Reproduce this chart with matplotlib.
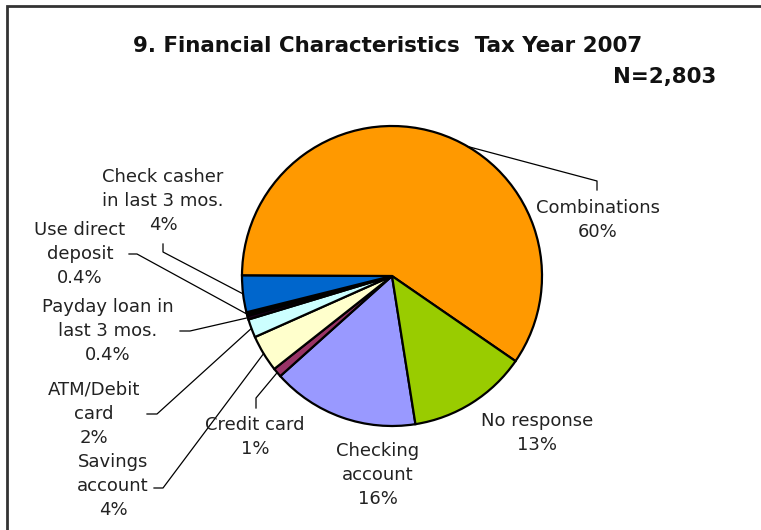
import numpy as np
import matplotlib.pyplot as plt

# slices in drawing order (clockwise from the bottom)
labels = ["Checking\naccount", "Credit card", "Savings\naccount", "ATM/Debit\ncard",
          "Payday loan in\nlast 3 mos.", "Use direct\ndeposit", "Check casher\nin last 3 mos.",
          "Combinations", "No response"]
pct_text = ["16%", "1%", "4%", "2%", "0.4%", "0.4%", "4%", "60%", "13%"]
values = [16, 1, 4, 2, 0.4, 0.4, 4, 60, 13]
colors = ["#9999FF", "#993366", "#FFFFCC", "#CCFFFF", "#1a001a", "#000000",
          "#0066CC", "#FF9900", "#99CC00"]

W, H = 761, 530
fig = plt.figure(figsize=(W / 100, H / 100), dpi=100)
ax = fig.add_axes([0, 0, 1, 1])


def py(y):
    # image rows -> axis y (y up)
    return H - y


cx, cy, R = 392, py(276), 150
wedges, _ = ax.pie(values, colors=colors, startangle=-81, counterclock=False,
                   center=(cx, cy), radius=R,
                   wedgeprops=dict(edgecolor="black", linewidth=1.6))
ax.set_xlim(0, W)
ax.set_ylim(0, H)
ax.set_aspect("equal")
ax.axis("off")

# label layout: text centre, leader elbow, leader end (image pixels)
layout = [
    ((378, 475), None, None),
    ((255, 437), (256, 398), (256, 408)),
    ((113, 486), (163, 488), (154, 488)),
    ((94, 414), (157, 414), (147, 414)),
    ((108, 331), (190, 331), (180, 331)),
    ((80, 254), (137, 254), (129, 254)),
    ((163, 201), (163, 252), (163, 244)),
    ((598, 220), (597, 181), (597, 190)),
    ((537, 433), None, None),
]
# where along each wedge the leader line meets the rim (0 = start, 1 = end)
anchor = [0.5, 0.5, 0.5, 0.5, 0.5, 0.5, 0.5, 0.56, 0.5]

txt_color = "#222222"
for w, lab, pct, (pos, elbow, end), f in zip(wedges, labels, pct_text, layout, anchor):
    ax.text(pos[0], py(pos[1]), f"{lab}\n{pct}", ha="center", va="center",
            fontsize=13, color=txt_color, linespacing=1.45, zorder=5)
    if elbow is None:
        continue
    mid = np.deg2rad(w.theta2 - f * (w.theta2 - w.theta1))
    ex, ey = cx + R * np.cos(mid), cy + R * np.sin(mid)
    ax.plot([ex, elbow[0], end[0]], [ey, py(elbow[1]), py(end[1])],
            color="black", lw=0.9, zorder=4)

ax.text(388, py(46), "9. Financial Characteristics  Tax Year 2007", ha="center",
        va="center", fontsize=15.4, fontweight="bold", color="#111111")
ax.text(716, py(77), "N=2,803", ha="right", va="center", fontsize=15.4,
        fontweight="bold", color="#111111")

# partial chart frame (top and left edges)
ax.plot([6.5, 6.5, W], [0, py(5.5), py(5.5)], color="#333333", lw=2,
        solid_joinstyle="miter", clip_on=False)

fig.savefig("out.png", dpi=100, facecolor="white")
